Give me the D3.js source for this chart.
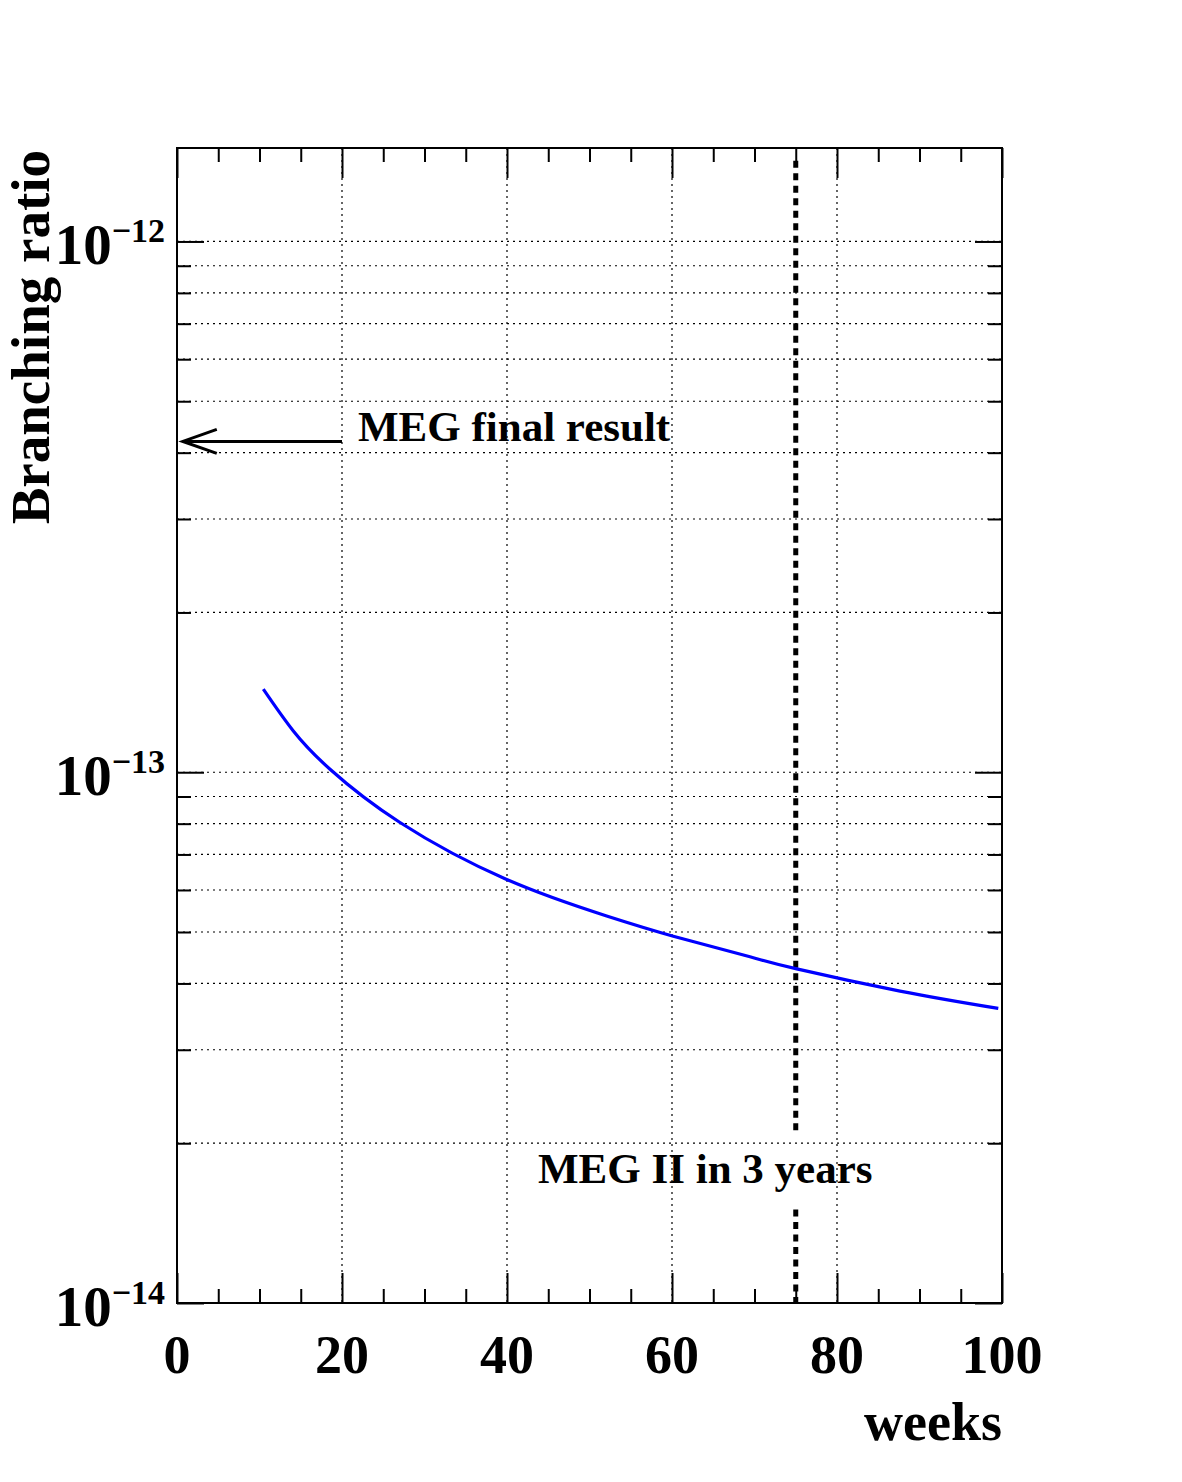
<!DOCTYPE html>
<html>
<head>
<meta charset="utf-8">
<script src="https://cdn.jsdelivr.net/npm/d3@7"></script>
<style>
  html, body { margin: 0; padding: 0; background: #fff; }
  text { font-family: "Liberation Serif", "Times New Roman", serif; font-weight: bold; fill: #000; }
</style>
</head>
<body>
<svg id="chart" width="1182" height="1482"></svg>
<script>
// ---- data ----
const weeks = [10.46, 14.10, 18.55, 27.03, 39.96, 52.08, 60.16, 69.45, 75.12, 87.64, 99.55];
const branchingRatio = [1.434e-13, 1.196e-13, 1.013e-13, 8.04e-14, 6.28e-14, 5.36e-14, 4.91e-14, 4.49e-14, 4.26e-14, 3.87e-14, 3.59e-14];

const xTicks = [0, 20, 40, 60, 80, 100];
const xTickLabels = ["0", "20", "40", "60", "80", "100"];
const xMinorTicks = [5, 10, 15, 25, 30, 35, 45, 50, 55, 65, 70, 75, 85, 90, 95];
const yDecades = [-14, -13, -12];
const yTickLabels = ["\u221214", "\u221213", "\u221212"];
const yMinorMultipliers = [2, 3, 4, 5, 6, 7, 8, 9];

const megFinal = 4.2e-13;          // MEG final result
const arrowWeeks = [20, 0.7];       // arrow from, to
const megIIWeeks = 75;              // MEG II in 3 years
const dashedSegments = [[1.42e-12, 2.1e-14], [1.5e-14, 1e-14]];

const xDomain = [0, 100];
const yDomain = [1e-14, 1.5e-12];

// ---- layout ----
const L = 177, R = 1002, T = 148, B = 1303;
const svg = d3.select("#chart");
const x = d3.scaleLinear().domain(xDomain).range([L, R]);
const y = d3.scaleLog().domain(yDomain).range([B, T]);

const yMajor = yDecades.map(d => Math.pow(10, d));
const yMinor = [];
yDecades.forEach(d => yMinorMultipliers.forEach(m => {
  const v = m * Math.pow(10, d);
  if (v <= yDomain[1]) yMinor.push(v);
}));

// ---- grid ----
const grid = svg.append("g").attr("stroke", "#000").attr("stroke-width", 1.2).attr("stroke-dasharray", "2,4");
grid.selectAll("line.v").data(xTicks.filter(v => v > xDomain[0] && v < xDomain[1])).join("line")
  .attr("x1", d => x(d)).attr("x2", d => x(d)).attr("y1", T).attr("y2", B);
grid.selectAll("line.h").data(yMajor.concat(yMinor).filter(v => v > yDomain[0] && v < yDomain[1])).join("line")
  .attr("x1", L).attr("x2", R).attr("y1", d => y(d)).attr("y2", d => y(d));

// ---- axes ticks ----
function styleAxis(g) {
  g.select(".domain").remove();
  g.selectAll("text").remove();
  g.selectAll("line").attr("stroke", "#000").attr("stroke-width", 2);
}
svg.append("g").attr("transform", `translate(0,${B})`).call(d3.axisBottom(x).tickValues(xTicks).tickSize(-30)).call(styleAxis);
svg.append("g").attr("transform", `translate(0,${B})`).call(d3.axisBottom(x).tickValues(xMinorTicks).tickSize(-14)).call(styleAxis);
svg.append("g").attr("transform", `translate(0,${T})`).call(d3.axisTop(x).tickValues(xTicks).tickSize(-30)).call(styleAxis);
svg.append("g").attr("transform", `translate(0,${T})`).call(d3.axisTop(x).tickValues(xMinorTicks).tickSize(-14)).call(styleAxis);
svg.append("g").attr("transform", `translate(${L},0)`).call(d3.axisLeft(y).tickValues(yMajor).tickSize(-27)).call(styleAxis);
svg.append("g").attr("transform", `translate(${L},0)`).call(d3.axisLeft(y).tickValues(yMinor).tickSize(-14)).call(styleAxis);
svg.append("g").attr("transform", `translate(${R},0)`).call(d3.axisRight(y).tickValues(yMajor).tickSize(-27)).call(styleAxis);
svg.append("g").attr("transform", `translate(${R},0)`).call(d3.axisRight(y).tickValues(yMinor).tickSize(-14)).call(styleAxis);

// ---- frame ----
svg.append("rect").attr("x", L).attr("y", T).attr("width", R - L).attr("height", B - T)
  .attr("fill", "none").attr("stroke", "#000").attr("stroke-width", 2);

// ---- tick labels ----
svg.append("g").selectAll("text").data(xTicks).join("text")
  .attr("x", d => x(d)).attr("y", 1373).attr("text-anchor", "middle")
  .attr("font-size", 54).text((d, i) => xTickLabels[i]);

const yl = svg.append("g").selectAll("text").data(yMajor).join("text")
  .attr("x", 165).attr("y", d => y(d) + 23).attr("text-anchor", "end");
yl.append("tspan").attr("font-size", 57).text("10");
yl.append("tspan").attr("font-size", 34).attr("dy", -22).text((d, i) => yTickLabels[i]);

// ---- axis titles ----
svg.append("text").attr("x", R).attr("y", 1440).attr("text-anchor", "end").attr("font-size", 54).text("weeks");
svg.append("text").attr("transform", `translate(49,${T + 2}) rotate(-90)`).attr("text-anchor", "end")
  .attr("font-size", 55).text("Branching ratio");

// ---- MEG II vertical dashed line ----
svg.append("g").selectAll("line").data(dashedSegments).join("line")
  .attr("x1", x(megIIWeeks)).attr("x2", x(megIIWeeks))
  .attr("y1", d => y(d[0])).attr("y2", d => y(d[1]))
  .attr("stroke", "#000").attr("stroke-width", 5).attr("stroke-dasharray", "7,5.5");

// ---- curve ----
const pts = weeks.map((w, i) => [w, branchingRatio[i]]);
svg.append("path").datum(pts)
  .attr("d", d3.line().x(d => x(d[0])).y(d => y(d[1])).curve(d3.curveNatural))
  .attr("fill", "none").attr("stroke", "#0000ff").attr("stroke-width", 3.2);

// ---- MEG final result arrow ----
const ay = y(megFinal);
const ax0 = x(arrowWeeks[0]), ax1 = x(arrowWeeks[1]);
svg.append("line").attr("x1", ax0).attr("x2", ax1).attr("y1", ay).attr("y2", ay).attr("stroke", "#000").attr("stroke-width", 3);
svg.append("path").attr("d", `M${ax1 + 34},${ay - 12} L${ax1},${ay} L${ax1 + 34},${ay + 12}`)
  .attr("fill", "none").attr("stroke", "#000").attr("stroke-width", 3);

svg.append("text").attr("x", x(arrowWeeks[0]) + 16).attr("y", ay).attr("font-size", 43).text("MEG final result");
svg.append("text").attr("x", 538).attr("y", 1183).attr("font-size", 43).text("MEG II in 3 years");
</script>
</body>
</html>
